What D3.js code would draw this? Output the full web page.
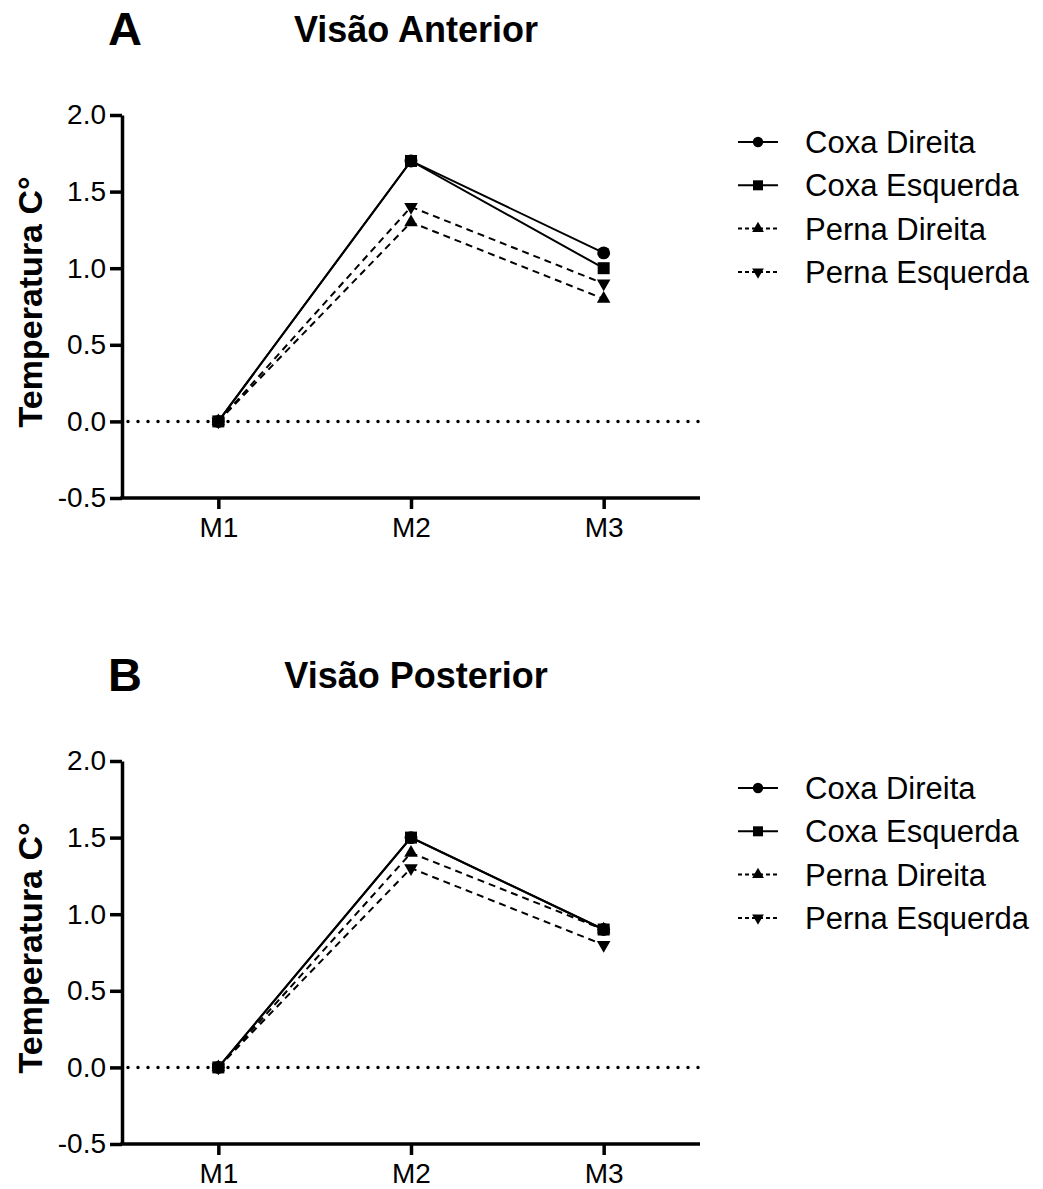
<!DOCTYPE html>
<html>
<head>
<meta charset="utf-8">
<script src="https://d3js.org/d3.v7.min.js"></script>
<style>
  body { margin: 0; background: #fff; }
  svg { font-family: "Liberation Sans", Arial, sans-serif; }
</style>
</head>
<body>
<svg id="chart" width="1043" height="1189"></svg>
<script>
// data
const timepoints = ["M1", "M2", "M3"];
const seriesNames = ["Coxa Direita", "Coxa Esquerda", "Perna Direita", "Perna Esquerda"];
const yTicks = [-0.5, 0.0, 0.5, 1.0, 1.5, 2.0];

const anteriorCoxaDireita = [0, 1.7, 1.1];
const anteriorCoxaEsquerda = [0, 1.7, 1.0];
const anteriorPernaDireita = [0, 1.3, 0.8];
const anteriorPernaEsquerda = [0, 1.4, 0.9];

const posteriorCoxaDireita = [0, 1.5, 0.9];
const posteriorCoxaEsquerda = [0, 1.5, 0.9];
const posteriorPernaDireita = [0, 1.4, 0.9];
const posteriorPernaEsquerda = [0, 1.3, 0.8];

const symbols = [d3.symbolCircle, d3.symbolSquare, d3.symbolTriangle, d3.symbolTriangle];
const rotations = [0, 0, 0, 180];
const markSize = [130, 144, 80, 80];
const legendSize = [85, 100, 60, 60];
const dashes = [null, null, "7,5", "7,5"];

const svg = d3.select('#chart');

function panel(top, letter, title, values) {
    var margin = {left: 122, right: 343};
    const width = 1043 - margin.left - margin.right;
    const height = 383; // 2.0 -> -0.5

    const g = svg.append('g')
        .attr('transform', `translate(${margin.left}, ${top})`);

    svg.append('text')
        .attr('x', 108).attr('y', top - 70)
        .style('font-size', '47px').style('font-weight', 'bold')
        .text(letter);

    svg.append('text')
        .attr('x', 416).attr('y', top - 73)
        .attr('text-anchor', 'middle')
        .style('font-size', '36px').style('font-weight', 'bold')
        .text(title);

    const yScale = d3.scaleLinear()
        .domain([-0.5, 2.0])
        .range([height, 0]);

    const xScale = d3.scalePoint()
        .domain(timepoints)
        .range([0, width])
        .padding(0.5);

    // zero line
    g.append('line')
        .attr('x1', 6).attr('x2', width)
        .attr('y1', yScale(0)).attr('y2', yScale(0))
        .attr('stroke', '#000')
        .attr('stroke-width', 3.5)
        .attr('stroke-linecap', 'round')
        .attr('stroke-dasharray', '0,10');

    const yAxis = g.append('g')
        .call(d3.axisLeft(yScale).tickValues(yTicks).tickSize(12).tickSizeOuter(0));
    yAxis.attr('font-family', null);
    yAxis.select('.domain').attr('stroke-width', 3.5);
    yAxis.selectAll('.tick line').attr('stroke-width', 3.5);
    yAxis.selectAll('.tick text')
        .style('font-size', '28px')
        .attr('x', -16)
        .text(d => d3.format('.1f')(d).replace('−', '-'));

    const xAxis = g.append('g')
        .attr('transform', `translate(0, ${height})`)
        .call(d3.axisBottom(xScale).tickSize(11).tickSizeOuter(0));
    xAxis.attr('font-family', null);
    xAxis.select('.domain').attr('stroke-width', 3.5).attr('d', `M-1.75,0H${width}`);
    xAxis.selectAll('.tick line').attr('stroke-width', 3.5);
    xAxis.selectAll('.tick text').style('font-size', '28px').attr('y', 19);

    g.append('text')
        .attr('transform', `translate(-80, ${yScale(0.78)}) rotate(-90)`)
        .attr('text-anchor', 'middle')
        .style('font-size', '34px').style('font-weight', 'bold')
        .text('Temperatura C°');

    const line = d3.line()
        .x((d, i) => xScale(timepoints[i]))
        .y(d => yScale(d));

    // draw in reverse so Coxa Esquerda (square) sits on top of Coxa Direita
    const order = [3, 2, 0, 1];
    order.forEach(k => {
        g.append('path')
            .datum(values[k])
            .attr('d', line)
            .attr('fill', 'none')
            .attr('stroke', '#000')
            .attr('stroke-width', 2)
            .attr('stroke-dasharray', dashes[k]);
    });
    order.forEach(k => {
        g.selectAll(null)
            .data(values[k])
            .enter()
            .append('path')
            .attr('d', d3.symbol().type(symbols[k]).size(markSize[k]))
            .attr('transform', (d, i) => `translate(${xScale(timepoints[i])}, ${yScale(d)}) rotate(${rotations[k]})`)
            .attr('fill', '#000');
    });

    // legend
    const legend = svg.append('g')
        .attr('transform', `translate(738, ${top + 27})`);
    seriesNames.forEach((name, k) => {
        const row = legend.append('g').attr('transform', `translate(0, ${k * 43.3})`);
        row.append('line')
            .attr('x1', 0).attr('x2', 40)
            .attr('stroke', '#000').attr('stroke-width', 2)
            .attr('stroke-dasharray', k > 1 ? '4,3' : null);
        row.append('path')
            .attr('d', d3.symbol().type(symbols[k]).size(legendSize[k]))
            .attr('transform', `translate(20, 0) rotate(${rotations[k]})`)
            .attr('fill', '#000');
        row.append('text')
            .attr('x', 67).attr('y', 11)
            .style('font-size', '31px')
            .text(name);
    });
}

panel(115, 'A', 'Visão Anterior',
    [anteriorCoxaDireita, anteriorCoxaEsquerda, anteriorPernaDireita, anteriorPernaEsquerda]);
panel(761, 'B', 'Visão Posterior',
    [posteriorCoxaDireita, posteriorCoxaEsquerda, posteriorPernaDireita, posteriorPernaEsquerda]);
</script>
</body>
</html>
